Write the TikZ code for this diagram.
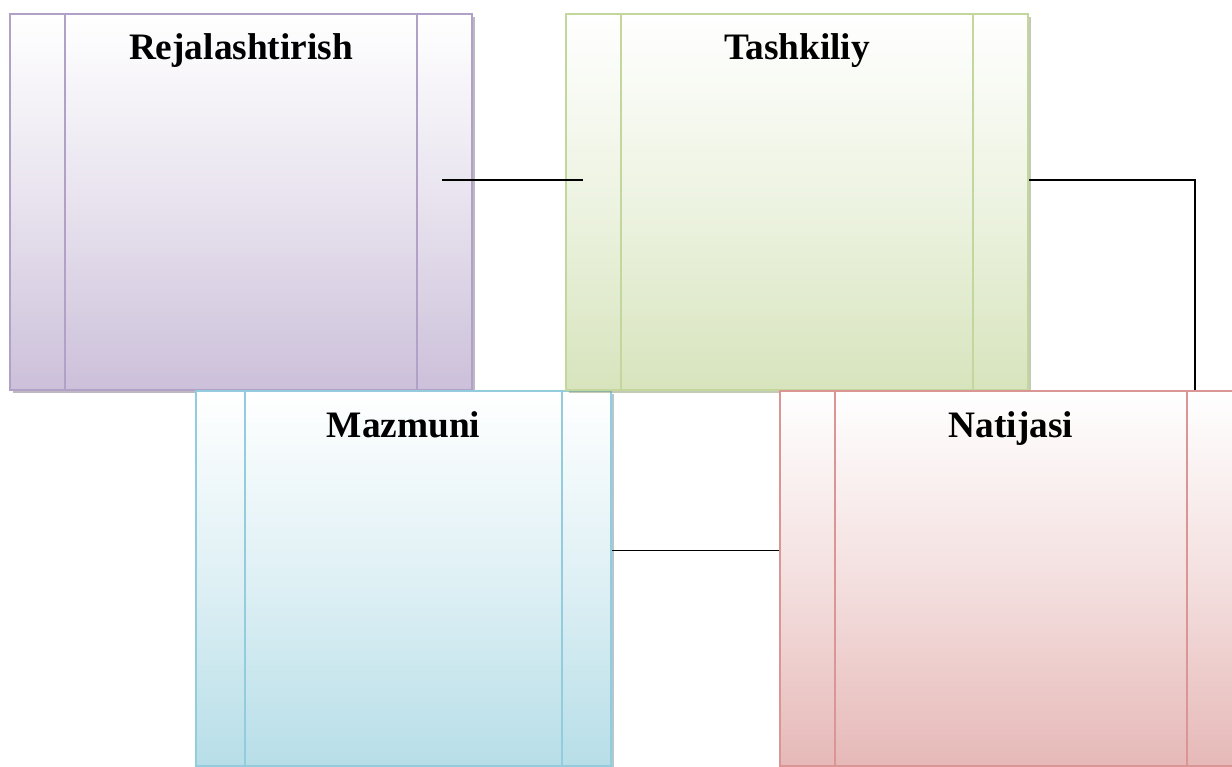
\documentclass[tikz,border=0pt]{standalone}
\usepackage{fontspec}
\setmainfont{Liberation Serif}
\usetikzlibrary{calc,shadows}

\definecolor{rejLine}{RGB}{178,161,199}
\definecolor{rejFill}{RGB}{204,192,218}
\definecolor{tashLine}{RGB}{195,214,155}
\definecolor{tashFill}{RGB}{215,228,189}
\definecolor{mazLine}{RGB}{147,205,221}
\definecolor{mazFill}{RGB}{183,222,232}
\definecolor{natLine}{RGB}{217,150,148}
\definecolor{natFill}{RGB}{230,185,184}

\tikzset{every picture/.style={line width=0.75pt}}
\tikzset{
  smartbox/.style={rectangle, draw=#1Line, line width=1.5pt, top color=white, bottom color=#1Fill,
    middle color=#1Fill!45!white,
    anchor=north west, inner sep=0pt,
    general shadow={shadow xshift=2.5pt, shadow yshift=-2.5pt, fill=#1Line!70!black, opacity=0.5}},
  boxtitle/.style={anchor=base, inner sep=0.75pt, font=\fontsize{28}{34}\selectfont\bfseries},
  link/.style={draw=black, line width=1.4pt}
}

% the two side bars inside a box
\newcommand{\sidebars}[1]{%
  \draw[draw=#1Line, line width=1.5pt]
    ($(#1.north west)!0.12!(#1.north east)$) -- ($(#1.south west)!0.12!(#1.south east)$)
    ($(#1.north east)!0.12!(#1.north west)$) -- ($(#1.south east)!0.12!(#1.south west)$);}

\begin{document}
\begin{tikzpicture}[x=0.75pt,y=0.75pt,yscale=-1,xscale=1]
\useasboundingbox (0,0) rectangle (1232,767);

%Box: Rejalashtirish
\node[smartbox=rej, minimum width=346.5pt, minimum height=282pt] (rej) at (9,13) {};
\sidebars{rej}
\node[boxtitle] (rejT) at ($(rej.north)+(0,47)$) {Rejalashtirish};

%Box: Mazmuni
\node[smartbox=maz, minimum width=311.25pt, minimum height=281.25pt] (maz) at (195,390) {};
\sidebars{maz}
\node[boxtitle] (mazT) at ($(maz.north)+(0,47)$) {Mazmuni};

%Box: Tashkiliy
\node[smartbox=tash, minimum width=346.5pt, minimum height=282pt] (tash) at (565,13) {};
\sidebars{tash}
\node[boxtitle] (tashT) at ($(tash.north)+(0,47)$) {Tashkiliy};

%Box: Natijasi
\node[smartbox=nat, minimum width=346.5pt, minimum height=281.25pt] (nat) at (779,390) {};
\sidebars{nat}
\node[boxtitle] (natT) at ($(nat.north)+(0,47)$) {Natijasi};

%Connectors
\coordinate (rejR) at ($(rej.east)+(-31,-22)$);
\coordinate (tashL) at ($(tash.west)+(18,-22)$);
\coordinate (tashR) at ($(tash.east)+(0,-22)$);
\coordinate (natTop) at ($(nat.north east)+(-48,0)$);
\coordinate (mazR) at ($(maz.east)+(0,-28)$);
\draw[link] (rejR) -- (tashL);
\draw[link] (tashR) -| (natTop);
\draw[link] (mazR) -- (mazR -| nat.west);

\end{tikzpicture}
\end{document}
